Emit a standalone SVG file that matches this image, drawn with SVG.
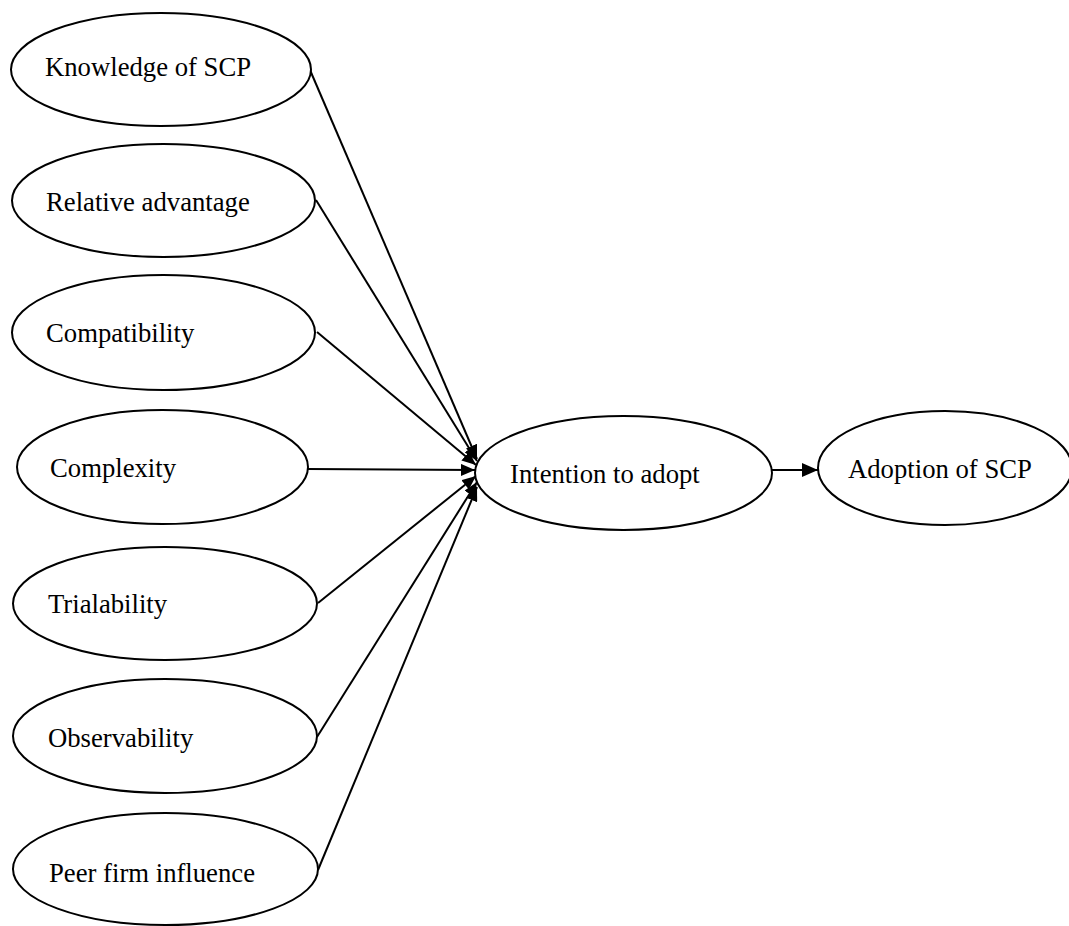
<svg xmlns="http://www.w3.org/2000/svg" width="1069" height="926" viewBox="0 0 1069 926">
  <defs>
    <style>
      .node ellipse { fill: #ffffff; stroke: #000000; stroke-width: 2; }
      .node text { font-family: "Liberation Serif", "Times New Roman", serif; font-size: 26.7px; fill: #000000; }
      .edges line { stroke: #000000; stroke-width: 2; fill: none; }
    </style>
    <marker id="arrowSmall" markerUnits="userSpaceOnUse" markerWidth="14" markerHeight="12" refX="14" refY="6" orient="auto">
      <path d="M0,0 L14,6 L0,12 z" fill="#000000"/>
    </marker>
    <marker id="arrowBig" markerUnits="userSpaceOnUse" markerWidth="16" markerHeight="14" refX="16" refY="7" orient="auto">
      <path d="M0,0 L16,7 L0,14 z" fill="#000000"/>
    </marker>
  </defs>
  <rect x="0" y="0" width="1069" height="926" fill="#ffffff"/>

  <g id="edges" class="edges">
    <line x1="310" y1="70" x2="477" y2="459" marker-end="url(#arrowSmall)"/>
    <line x1="316" y1="200" x2="477" y2="461" marker-end="url(#arrowSmall)"/>
    <line x1="317" y1="332" x2="476" y2="465" marker-end="url(#arrowSmall)"/>
    <line x1="308" y1="469" x2="475" y2="470" marker-end="url(#arrowSmall)"/>
    <line x1="318" y1="603" x2="476" y2="476" marker-end="url(#arrowSmall)"/>
    <line x1="317" y1="737" x2="477" y2="482" marker-end="url(#arrowSmall)"/>
    <line x1="318" y1="870" x2="477" y2="487" marker-end="url(#arrowSmall)"/>
    <line x1="772" y1="470" x2="818" y2="470" marker-end="url(#arrowBig)"/>
  </g>

  <g id="knowledge" class="node">
    <ellipse cx="161" cy="69.5" rx="150" ry="56.5"/>
    <text x="45" y="76">Knowledge of SCP</text>
  </g>
  <g id="relative-advantage" class="node">
    <ellipse cx="163.5" cy="200.5" rx="151.5" ry="56.5"/>
    <text x="46" y="211">Relative advantage</text>
  </g>
  <g id="compatibility" class="node">
    <ellipse cx="163.5" cy="332.5" rx="151.5" ry="57.5"/>
    <text x="46" y="342">Compatibility</text>
  </g>
  <g id="complexity" class="node">
    <ellipse cx="162.5" cy="467" rx="145.5" ry="57"/>
    <text x="50" y="477">Complexity</text>
  </g>
  <g id="trialability" class="node">
    <ellipse cx="165" cy="603.5" rx="152" ry="56.5"/>
    <text x="48" y="613">Trialability</text>
  </g>
  <g id="observability" class="node">
    <ellipse cx="165" cy="736" rx="152" ry="57"/>
    <text x="48" y="747">Observability</text>
  </g>
  <g id="peer-firm-influence" class="node">
    <ellipse cx="165.5" cy="869" rx="152.5" ry="56"/>
    <text x="49" y="882">Peer firm influence</text>
  </g>
  <g id="intention" class="node">
    <ellipse cx="623.5" cy="473" rx="148.5" ry="57"/>
    <text x="510" y="483">Intention to adopt</text>
  </g>
  <g id="adoption" class="node">
    <ellipse cx="945" cy="468" rx="127" ry="57"/>
    <text x="848" y="478">Adoption of SCP</text>
  </g>
</svg>
